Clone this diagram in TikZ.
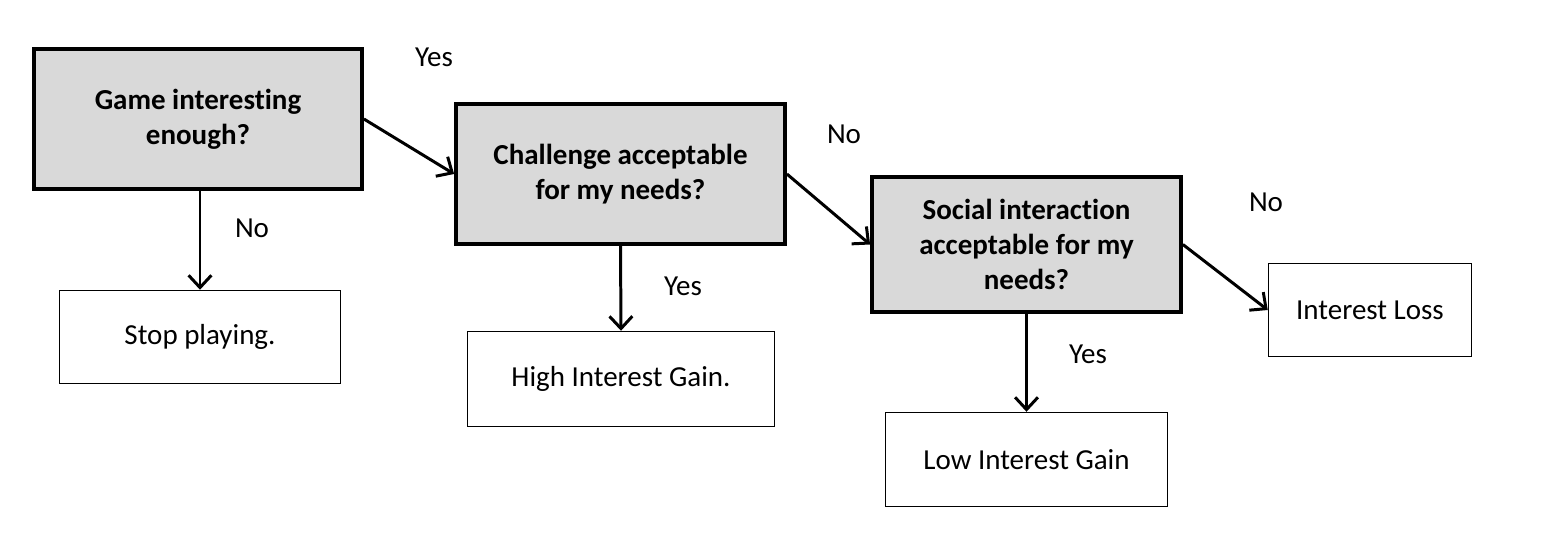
\documentclass[tikz,border=0pt]{standalone}
\usepackage{fontspec}
\setmainfont{Carlito}[RawFeature={-liga;-clig;-dlig;-calt}]
\usetikzlibrary{arrows.meta}
\definecolor{shade}{HTML}{D9D9D9}

\begin{document}
\begin{tikzpicture}[x=0.02cm,y=-0.02cm,
  question/.style={draw,fill=shade,line width=2.2pt,align=center,font=\fontsize{16.5}{19.8}\selectfont\bfseries},
  outcome/.style={draw,line width=0.85pt,align=center,font=\fontsize{16.5}{19.8}\selectfont},
  answer/.style={font=\fontsize{16.5}{19.8}\selectfont},
  arr/.style={line width=1.7pt,-{Straight Barb[length=7pt,width=13pt,line width=1.7pt]}}]
\useasboundingbox (0,0) rectangle (1546,548);
% questions
\node[question,minimum width=6.56cm,minimum height=2.8cm] (game) at (198,119) {Game interesting\\enough?};
\node[question,minimum width=6.58cm,minimum height=2.8cm] (chal) at (620.5,174) {Challenge acceptable\\for my needs?};
\node[question,minimum width=6.18cm,minimum height=2.7cm] (social) at (1026.5,244.5) {Social interaction\\acceptable for my\\needs?};
% outcomes
\node[outcome,minimum width=5.62cm,minimum height=1.86cm] (stop) at (200,337) {Stop playing.};
\node[outcome,minimum width=6.14cm,minimum height=1.9cm] (high) at (621,379) {High Interest Gain.};
\node[outcome,minimum width=5.64cm,minimum height=1.88cm] (low) at (1026.5,459.5) {Low Interest Gain};
\node[outcome,minimum width=4.06cm,minimum height=1.86cm] (loss) at (1370,310) {Interest Loss};
% answers
\node[answer] (y1) at (434,57) {Yes};
\node[answer] (n1) at (252,228) {No};
\node[answer] (y2) at (683,286) {Yes};
\node[answer] (n2) at (844,134) {No};
\node[answer] (y3) at (1088,354) {Yes};
\node[answer] (n3) at (1266,202) {No};
% arrows
\draw[arr] (game.south -| stop.north) -- (stop.north);
\draw[arr] (game.east) -- (chal.west);
\draw[arr] (chal.south) -- (high.north);
\draw[arr] (chal.east) -- (social.west);
\draw[arr] (social.south) -- (low.north);
\draw[arr] (social.east) -- (loss.west);
\end{tikzpicture}
\end{document}
